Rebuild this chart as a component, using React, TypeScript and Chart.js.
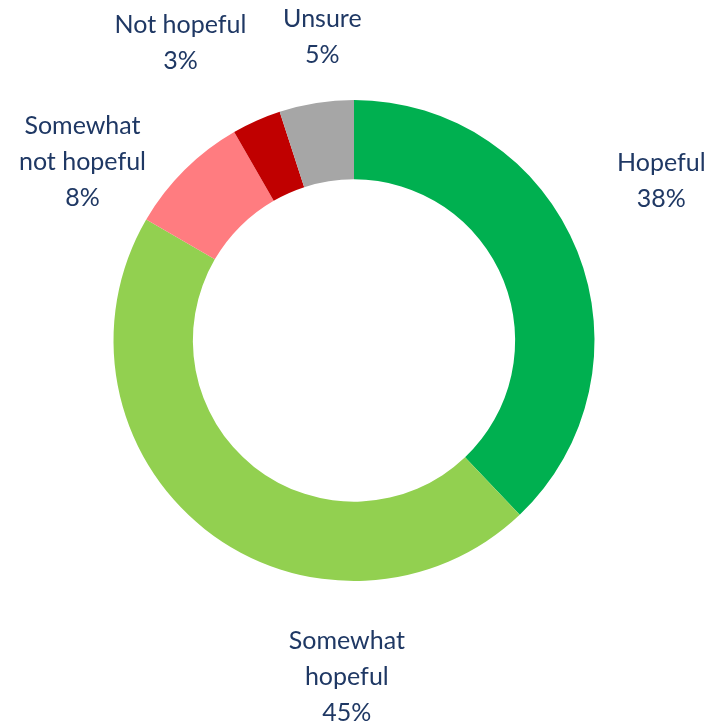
import React, { useEffect, useRef } from "react";
import { Chart, registerables } from "chart.js";

Chart.register(...registerables);

const categories = ["Hopeful", "Somewhat hopeful", "Somewhat not hopeful", "Not hopeful", "Unsure"];
const values = [37.9, 45.5, 8.3, 3.3, 5.0];
const percentLabels = ["38%", "45%", "8%", "3%", "5%"];
const nameLines = [["Hopeful"], ["Somewhat", "hopeful"], ["Somewhat", "not hopeful"], ["Not hopeful"], ["Unsure"]];
const colors = ["#00B050", "#92D050", "#FF7C80", "#C00000", "#A6A6A6"];
const labelOffsets = [[84, -70], [142, 148], [-102, -8], [-76, -78], [6, -66]];

const labelPlugin = {
  id: "outerLabels",
  afterDraw(chart: any) {
    const ctx = chart.ctx;
    const meta = chart.getDatasetMeta(0);
    ctx.save();
    ctx.font = "25px Lato";
    ctx.fillStyle = "#1F3864";
    ctx.textAlign = "center";
    ctx.textBaseline = "middle";
    const lh = 36;
    meta.data.forEach((arc: any, i: number) => {
      const mid = (arc.startAngle + arc.endAngle) / 2;
      const px = arc.x + Math.cos(mid) * arc.outerRadius;
      const py = arc.y + Math.sin(mid) * arc.outerRadius;
      const cx = px + labelOffsets[i][0];
      const cy = py + labelOffsets[i][1];
      const lines = [...nameLines[i], percentLabels[i]];
      const y0 = cy - ((lines.length - 1) * lh) / 2;
      lines.forEach((l, j) => ctx.fillText(l, cx, y0 + j * lh));
    });
    ctx.restore();
  },
};

export default function App() {
  const ref = useRef<HTMLCanvasElement>(null);
  useEffect(() => {
    if (!ref.current) return;
    const chart = new Chart(ref.current, {
      type: "doughnut",
      data: {
        labels: categories,
        datasets: [{ data: values, backgroundColor: colors, borderWidth: 0 }],
      },
      options: {
        animation: false,
        responsive: false,
        cutout: "67%",
        layout: { padding: { left: 113, right: 115, top: 100, bottom: 143 } },
        plugins: { legend: { display: false }, tooltip: { enabled: false } },
      },
      plugins: [labelPlugin],
    });
    return () => chart.destroy();
  }, []);
  return (
    <div style={{ position: "absolute", left: 0, top: 0, width: 710, height: 724, background: "#fff" }}>
      <canvas ref={ref} width={710} height={724} style={{ width: 710, height: 724 }} />
    </div>
  );
}
